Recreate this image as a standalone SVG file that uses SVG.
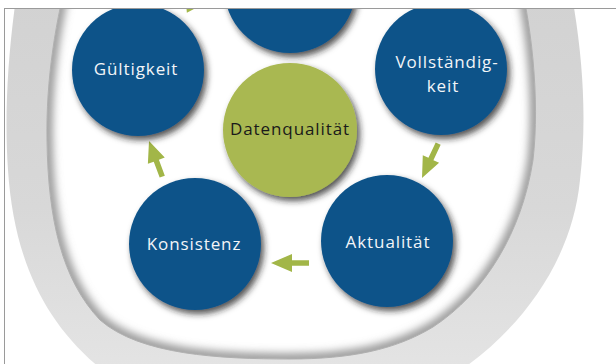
<svg xmlns="http://www.w3.org/2000/svg" xmlns:xlink="http://www.w3.org/1999/xlink" width="616" height="364" viewBox="0 0 616 364">
  <style>
    .blue { fill: #0b5389; }
    .green { fill: #a9b851; }
    .lbl { font-family: "Open Sans", "Noto Sans", sans-serif; font-size: 17px; letter-spacing: 0.9px; text-anchor: middle; }
    .w { fill: #f2f5f8; }
    .k { fill: #1a1a1a; }
    .arrow { fill: #a2b648; }
  </style>
  <defs>
    <clipPath id="frameClip"><rect x="5" y="9" width="611" height="355"/></clipPath>
    <path id="innerShape" d="M 72,-40 C 55,20 46,80 47,140 C 48,220 62,280 100,320 C 140,355 220,359 290,359 C 350,359 395,350 433,327 C 485,293 522,232 533,160 C 540,100 532,20 515,-40 Z"/>
    <clipPath id="innerClip"><use xlink:href="#innerShape"/></clipPath>
    <linearGradient id="ringGrad" x1="0" y1="0" x2="0" y2="1">
      <stop offset="0" stop-color="#d1d1d1"/>
      <stop offset="0.6" stop-color="#d8d8d8"/>
      <stop offset="1" stop-color="#e4e4e4"/>
    </linearGradient>
    <filter id="innerBlur" x="-10%" y="-10%" width="120%" height="120%">
      <feGaussianBlur stdDeviation="4"/>
    </filter>
    <filter id="shadow" x="-20%" y="-20%" width="150%" height="150%">
      <feGaussianBlur in="SourceAlpha" stdDeviation="3.2"/>
      <feOffset dx="3" dy="4" result="b"/>
      <feFlood flood-color="#1e1e1e" flood-opacity="0.75"/>
      <feComposite in2="b" operator="in"/>
      <feMerge><feMergeNode/><feMergeNode in="SourceGraphic"/></feMerge>
    </filter>
    <path id="arr" d="M0,0 L21,-9 L21,-2.75 L38,-2.75 L38,2.75 L21,2.75 L21,9 Z"/>
  </defs>

  <rect x="0" y="0" width="616" height="364" fill="#ffffff"/>

  <g clip-path="url(#frameClip)">
    <g id="ring">
      <path d="M 22,-40 C 8,40 4,110 8,170 C 14,260 45,325 105,372 L 458,372 C 520,330 572,262 580,180 C 588,110 582,40 565,-40 Z" fill="url(#ringGrad)"/>
      <use xlink:href="#innerShape" fill="#ffffff"/>
      <g clip-path="url(#innerClip)">
        <use xlink:href="#innerShape" fill="none" stroke="#959595" stroke-width="11" filter="url(#innerBlur)"/>
      </g>
      <use xlink:href="#innerShape" fill="none" stroke="#b0b0b0" stroke-width="1"/>
    </g>

    <g id="connectors">
      <use xlink:href="#arr" class="arrow" transform="translate(207,2) rotate(175)"/>
      <use xlink:href="#arr" class="arrow" transform="translate(422,178) rotate(-64.8)"/>
      <use xlink:href="#arr" class="arrow" transform="translate(271,263)"/>
      <use xlink:href="#arr" class="arrow" transform="translate(149,141) rotate(69.6)"/>
    </g>

    <g id="node-top">
      <circle cx="290" cy="-13" r="66" class="blue" filter="url(#shadow)"/>
    </g>
    <g id="node-gueltigkeit">
      <circle cx="138" cy="70" r="66" class="blue" filter="url(#shadow)"/>
      <text x="136" y="75" class="lbl w">Gültigkeit</text>
    </g>
    <g id="node-vollstaendigkeit">
      <circle cx="441" cy="69" r="66" class="blue" filter="url(#shadow)"/>
      <text x="447" y="68" class="lbl w">Vollständig-</text>
      <text x="443" y="92" class="lbl w">keit</text>
    </g>
    <g id="node-datenqualitaet">
      <circle cx="290" cy="130" r="67" class="green" filter="url(#shadow)"/>
      <text x="290" y="135" class="lbl k">Datenqualität</text>
    </g>
    <g id="node-konsistenz">
      <circle cx="195" cy="244" r="66" class="blue" filter="url(#shadow)"/>
      <text x="194" y="250" class="lbl w">Konsistenz</text>
    </g>
    <g id="node-aktualitaet">
      <circle cx="387" cy="241" r="66" class="blue" filter="url(#shadow)"/>
      <text x="388" y="248" class="lbl w">Aktualität</text>
    </g>
  </g>

  <g id="frame" stroke="#9a9a9a" stroke-width="1" fill="none">
    <line x1="4" y1="8.5" x2="616" y2="8.5"/>
    <line x1="4.5" y1="8" x2="4.5" y2="364"/>
  </g>
</svg>
